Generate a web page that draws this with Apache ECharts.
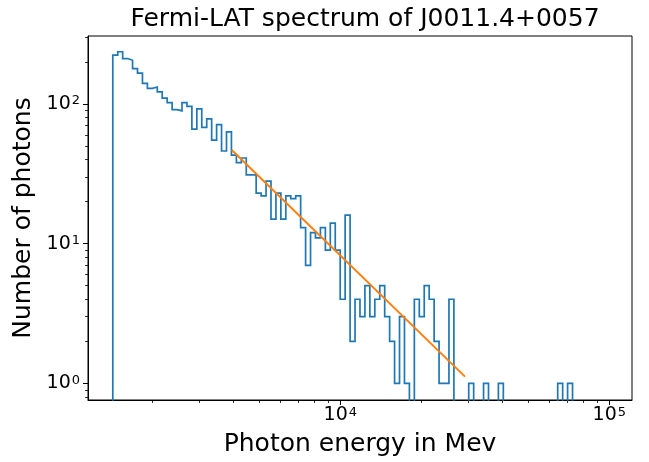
<!DOCTYPE html>
<html><head><meta charset="utf-8">
<script src="https://cdn.jsdelivr.net/npm/echarts@6/dist/echarts.min.js"></script>
<style>html,body{margin:0;padding:0;background:#fff}#c{width:649px;height:462px}</style>
</head><body><div id="c"></div>
<script>
// Histogram counts per log-spaced energy bin (100 bins)
const counts = [
  223, 236, 211, 205, 179, 166, 140, 129, 132, 122,
  110, 102, 91, 89, 102, 96, 66, 92, 68, 78,
  55, 71, 46, 63, 43, 38, 41, 31, 31, 23,
  22, 28, 15, 23, 15, 22, 21, 22, 13, 7,
  12, 11, 13, 9, 14, 9, 4, 16, 2, 4,
  3, 5, 3, 4, 5, 3, 2, 1, 3, 1,
  0, 4, 3, 5, 4, 2, 1, 1, 4, 0,
  0, 0, 1, 0, 0, 1, 0, 0, 1, 0,
  0, 0, 0, 0, 0, 0, 0, 0, 0, 0,
  1, 0, 1, 0, 0, 0, 0, 0, 0, 0
];
// Bin edges span (log10 of energy in MeV)
const binLogStart = 3.154;
const binLogEnd = 4.992;
// Power-law fit line end points
const fitEnergy = [3947, 29080];
const fitCounts = [46.8, 1.118];
// Axis ranges and ticks
const xRange = [1153, 121450];
const yRange = [0.7608, 305.9];
const xMajorTicks = [10000, 100000];
const xMinorTicks = [2000, 3000, 4000, 5000, 6000, 7000, 8000, 9000,
  20000, 30000, 40000, 50000, 60000, 70000, 80000, 90000];
const yMajorTicks = [1, 10, 100];
const yMinorTicks = [0.8, 0.9, 2, 3, 4, 5, 6, 7, 8, 9,
  20, 30, 40, 50, 60, 70, 80, 90, 200, 300];
const titleText = 'Fermi-LAT spectrum of J0011.4+0057';
const xName = 'Photon energy in Mev';
const yName = 'Number of photons';

const n = counts.length;
const edges = [];
for (let i = 0; i <= n; i++) edges.push(Math.pow(10, binLogStart + (binLogEnd - binLogStart) * i / n));
const floorVal = yRange[0] / 100;
const stepPts = [[edges[0], floorVal]];
for (let i = 0; i < n; i++) {
  const v = counts[i] > 0 ? counts[i] : floorVal;
  stepPts.push([edges[i], v], [edges[i + 1], v]);
}
stepPts.push([edges[n], floorVal]);

const FONT = 'DejaVu Sans';
const powFmt = v => '{b|10}{s|' + Math.round(Math.log10(v)) + '}';
const richLab = {
  b: { fontSize: 19, fontFamily: FONT, color: '#000' },
  s: { fontSize: 13, fontFamily: FONT, color: '#000', verticalAlign: 'top', padding: [0, 0, 6, 1] }
};

const chart = echarts.init(document.getElementById('c'), null, { renderer: 'canvas' });
chart.setOption({
  animation: false,
  backgroundColor: '#fff',
  title: {
    text: titleText, left: 360, top: 2, textAlign: 'center',
    textStyle: { fontFamily: FONT, fontSize: 25, fontWeight: 'normal', color: '#000' }
  },
  grid: {
    left: 88, right: 17, top: 36, bottom: 62, show: true,
    borderColor: '#000', borderWidth: 1, backgroundColor: 'transparent',
    containLabel: false, outerBoundsMode: 'none'
  },
  xAxis: [{
    type: 'log', logBase: 10, min: xRange[0], max: xRange[1], position: 'bottom',
    name: xName, nameLocation: 'middle', nameGap: 32,
    nameTextStyle: { fontFamily: FONT, fontSize: 25, color: '#000' },
    axisLine: { show: true, lineStyle: { color: '#000', width: 1 } },
    axisTick: { show: true, length: 5, customValues: xMajorTicks, lineStyle: { color: '#000', width: 1 } },
    axisLabel: { show: true, margin: 6, customValues: xMajorTicks, formatter: powFmt, rich: richLab },
    splitLine: { show: false }, minorTick: { show: false }
  }, {
    type: 'log', logBase: 10, min: xRange[0], max: xRange[1], position: 'bottom', gridIndex: 0,
    axisLine: { show: false },
    axisTick: { show: true, length: 3, customValues: xMinorTicks, lineStyle: { color: '#000', width: 0.8 } },
    axisLabel: { show: false }, splitLine: { show: false }
  }],
  yAxis: [{
    type: 'log', logBase: 10, min: yRange[0], max: yRange[1], position: 'left',
    name: yName, nameLocation: 'middle', nameGap: 47, nameRotate: 90,
    nameTextStyle: { fontFamily: FONT, fontSize: 25, color: '#000' },
    axisLine: { show: true, lineStyle: { color: '#000', width: 1 } },
    axisTick: { show: true, length: 5, customValues: yMajorTicks, lineStyle: { color: '#000', width: 1 } },
    axisLabel: { show: true, margin: 8, customValues: yMajorTicks, formatter: powFmt, rich: richLab },
    splitLine: { show: false }
  }, {
    type: 'log', logBase: 10, min: yRange[0], max: yRange[1], position: 'left', gridIndex: 0,
    axisLine: { show: false },
    axisTick: { show: true, length: 3, customValues: yMinorTicks, lineStyle: { color: '#000', width: 0.8 } },
    axisLabel: { show: false }, splitLine: { show: false }
  }],
  series: [{
    type: 'line', xAxisIndex: 0, yAxisIndex: 0, data: stepPts, showSymbol: false, symbol: 'none',
    clip: true, lineStyle: { color: '#1f77b4', width: 1.7, join: 'miter' }, z: 3
  }, {
    type: 'line', xAxisIndex: 0, yAxisIndex: 0,
    data: fitEnergy.map((e, i) => [e, fitCounts[i]]), showSymbol: false, symbol: 'none',
    clip: true, lineStyle: { color: '#ff7f0e', width: 2 }, z: 4
  }]
});
</script></body></html>
